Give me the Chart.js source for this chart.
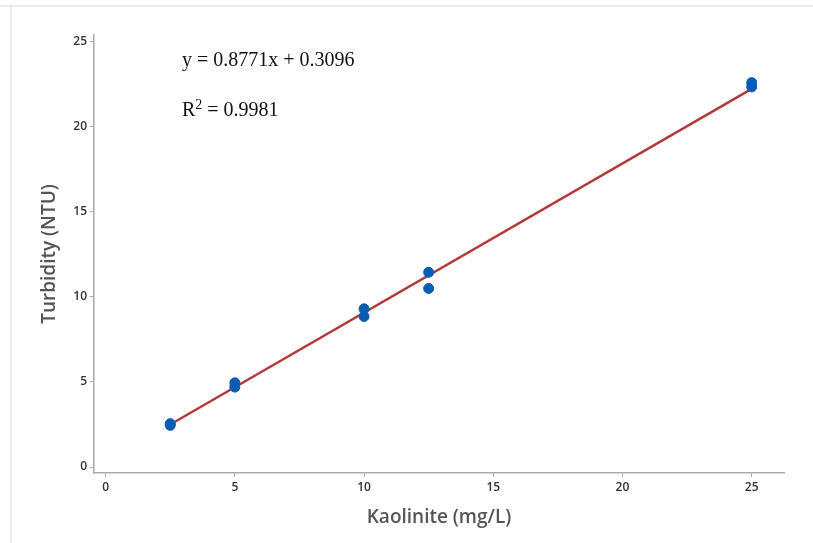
<!DOCTYPE html>
<html>
<head>
<meta charset="utf-8">
<script src="https://cdn.jsdelivr.net/npm/chart.js@4/dist/chart.umd.min.js"></script>
<style>
  html, body { margin: 0; padding: 0; background: #fff; }
  #wrap { position: relative; width: 813px; height: 543px; }
  .edge { position: absolute; background: #ececec; }
  #edgeTop { left: 0; top: 5px; width: 813px; height: 2px; }
  #edgeLeft { left: 10px; top: 5px; width: 2px; height: 538px; }
  canvas { position: absolute; left: 0; top: 0; }
</style>
</head>
<body>
<div id="wrap">
  <div class="edge" id="edgeTop"></div>
  <div class="edge" id="edgeLeft"></div>
  <canvas id="calibChart" width="813" height="543"></canvas>
</div>
<script>
// Kaolinite standards and measured turbidity (duplicate readings)
const kaolinite = [2.5, 2.5, 5, 5, 10, 10, 12.5, 12.5, 25, 25];
const turbidity = [2.45, 2.55, 4.7, 4.95, 8.85, 9.3, 10.5, 11.45, 22.35, 22.6];

// Linear fit reported on the chart
const slope = 0.8771;
const intercept = 0.3096;
const fitRange = [2.5, 25];

const xTicks = [0, 5, 10, 15, 20, 25];
const yTicks = [0, 5, 10, 15, 20, 25];

const points = kaolinite.map((x, i) => ({ x: x, y: turbidity[i] }));
const fitLine = fitRange.map(x => ({ x: x, y: slope * x + intercept }));

// equation and R² text in the upper left of the plot
const fitLabel = {
  id: 'fitLabel',
  afterDraw(chart) {
    const ctx = chart.ctx;
    const serif = '"Liberation Serif", "Times New Roman", serif';
    ctx.save();
    ctx.fillStyle = '#111';
    ctx.textBaseline = 'middle';
    ctx.textAlign = 'left';
    ctx.font = '20px ' + serif;
    ctx.fillText('y = ' + slope + 'x + ' + intercept, 182, 61);
    ctx.fillText('R', 182, 111);
    const rw = ctx.measureText('R').width;
    ctx.font = '14px ' + serif;
    ctx.fillText('2', 182 + rw, 105);
    const sw = ctx.measureText('2').width;
    ctx.font = '20px ' + serif;
    ctx.fillText(' = 0.9981', 182 + rw + sw, 111);
    ctx.restore();
  }
};

const tickFont = { family: '"Open Sans", "DejaVu Sans", sans-serif', size: 12, weight: '600' };
const titleFont = { family: '"Open Sans", "DejaVu Sans", sans-serif', size: 19, weight: '600' };

new Chart(document.getElementById('calibChart').getContext('2d'), {
  type: 'scatter',
  data: {
    datasets: [{
      label: 'Measured',
      data: points,
      backgroundColor: '#0a5cb3',
      borderColor: '#0a5cb3',
      pointRadius: 5,
      pointHoverRadius: 5
    }, {
      type: 'line',
      label: 'Fit',
      data: fitLine,
      borderColor: '#b23a3a',
      borderWidth: 2.5,
      pointRadius: 0,
      fill: false
    }]
  },
  options: {
    responsive: false,
    animation: false,
    layout: { padding: { left: 0, top: 35, right: 29, bottom: 0 } },
    plugins: {
      legend: { display: false },
      tooltip: { enabled: false }
    },
    scales: {
      x: {
        type: 'linear',
        min: -0.45,
        max: 26.25,
        afterBuildTicks: s => { s.ticks = xTicks.map(v => ({ value: v })); },
        afterFit: s => { s.height = 70; },
        grid: { drawOnChartArea: false, drawTicks: true, tickLength: 4, color: '#aaa' },
        border: { display: true, color: '#aaa', width: 1.5 },
        ticks: { color: '#333', font: tickFont, padding: 3, maxRotation: 0 },
        title: {
          display: true,
          text: 'Kaolinite (mg/L)',
          color: '#555',
          font: titleFont,
          padding: { bottom: 14 }
        }
      },
      y: {
        type: 'linear',
        min: -0.35,
        max: 25.4,
        afterBuildTicks: s => { s.ticks = yTicks.map(v => ({ value: v })); },
        afterFit: s => { s.width = 94; },
        grid: { drawOnChartArea: false, drawTicks: true, tickLength: 4, color: '#aaa' },
        border: { display: true, color: '#aaa', width: 1.5 },
        ticks: { color: '#333', font: tickFont, padding: 3 },
        title: {
          display: true,
          text: 'Turbidity (NTU)',
          color: '#555',
          font: titleFont,
          padding: { top: 38 }
        }
      }
    }
  },
  plugins: [fitLabel]
});
</script>
</body>
</html>
